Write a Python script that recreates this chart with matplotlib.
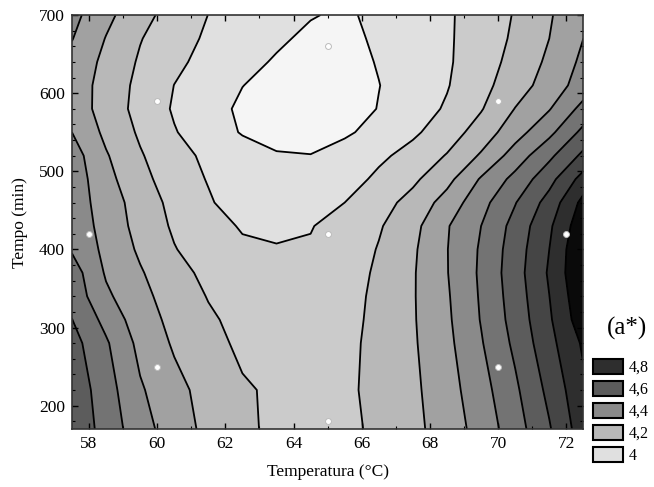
import numpy as np
import matplotlib
matplotlib.use("Agg")
import matplotlib.pyplot as plt
from matplotlib.patches import Patch

temp = [57.5, 58.5, 59.5, 60.5, 61.5, 62.5, 63.5, 64.5, 65.5, 66.5, 67.5, 68.5, 69.5, 70.5, 71.5, 72.5]
tempo = [170, 220, 280, 310, 340, 370, 400, 430, 460, 490, 520, 550, 580, 610, 640, 670, 700]

# a* values, one row per tempo value (bottom to top)
a_star = [
    [4.683, 4.559, 4.442, 4.347, 4.275, 4.219, 4.180, 4.175, 4.180, 4.217, 4.274, 4.346, 4.439, 4.555, 4.691, 4.855],
    [4.670, 4.544, 4.412, 4.329, 4.265, 4.211, 4.185, 4.180, 4.185, 4.222, 4.280, 4.359, 4.461, 4.582, 4.726, 4.880],
    [4.638, 4.513, 4.372, 4.288, 4.233, 4.180, 4.170, 4.165, 4.175, 4.228, 4.288, 4.375, 4.492, 4.621, 4.769, 4.915],
    [4.602, 4.470, 4.345, 4.274, 4.215, 4.170, 4.155, 4.150, 4.165, 4.228, 4.291, 4.383, 4.505, 4.638, 4.786, 4.960],
    [4.565, 4.419, 4.326, 4.259, 4.195, 4.165, 4.145, 4.140, 4.155, 4.227, 4.292, 4.389, 4.511, 4.648, 4.799, 4.980],
    [4.550, 4.389, 4.309, 4.235, 4.175, 4.145, 4.125, 4.125, 4.145, 4.219, 4.291, 4.396, 4.516, 4.657, 4.812, 5.000],
    [4.490, 4.374, 4.285, 4.205, 4.150, 4.115, 4.105, 4.110, 4.140, 4.206, 4.285, 4.397, 4.512, 4.650, 4.800, 5.000],
    [4.470, 4.361, 4.267, 4.186, 4.134, 4.092, 4.085, 4.095, 4.141, 4.190, 4.270, 4.392, 4.500, 4.635, 4.783, 4.970],
    [4.455, 4.354, 4.255, 4.172, 4.111, 4.050, 4.045, 4.065, 4.100, 4.162, 4.233, 4.340, 4.466, 4.595, 4.739, 4.930],
    [4.459, 4.332, 4.228, 4.154, 4.094, 4.055, 4.025, 4.025, 4.055, 4.121, 4.181, 4.270, 4.410, 4.530, 4.666, 4.840],
    [4.448, 4.309, 4.209, 4.134, 4.080, 4.043, 4.006, 4.002, 4.041, 4.080, 4.135, 4.206, 4.312, 4.444, 4.578, 4.723],
    [4.400, 4.277, 4.186, 4.106, 4.049, 3.993, 3.975, 3.970, 3.985, 4.034, 4.083, 4.152, 4.243, 4.360, 4.474, 4.627],
    [4.359, 4.259, 4.167, 4.090, 4.037, 3.983, 3.955, 3.945, 3.951, 4.004, 4.055, 4.111, 4.193, 4.303, 4.394, 4.532],
    [4.357, 4.262, 4.174, 4.099, 4.050, 4.0015, 3.970, 3.955, 3.955, 3.998, 4.046, 4.094, 4.170, 4.253, 4.344, 4.446],
    [4.368, 4.276, 4.188, 4.120, 4.071, 4.030, 3.990, 3.965, 3.965, 4.006, 4.047, 4.088, 4.154, 4.232, 4.319, 4.422],
    [4.404, 4.296, 4.205, 4.139, 4.086, 4.051, 4.016, 3.980, 3.975, 4.015, 4.051, 4.088, 4.145, 4.216, 4.300, 4.400],
    [4.430, 4.326, 4.233, 4.160, 4.099, 4.068, 4.037, 4.006, 3.985, 4.024, 4.056, 4.088, 4.140, 4.207, 4.290, 4.380],
]

# experimental points (planejamento)
pts_temp = [58, 60, 60, 65, 65, 65, 70, 70, 72]
pts_tempo = [420, 250, 590, 180, 420, 660, 250, 590, 420]

levels = [3.8, 4.0, 4.1, 4.2, 4.3, 4.4, 4.5, 4.6, 4.7, 4.8, 4.9, 5.2]
greys = ['#f5f5f5', '#e0e0e0', '#cbcbcb', '#b8b8b8', '#a1a1a1', '#8a8a8a',
         '#737373', '#5c5c5c', '#454545', '#2e2e2e', '#0a0a0a']

leg_labels = ['4,8', '4,6', '4,4', '4,2', '4']
leg_colors = ['#2e2e2e', '#5c5c5c', '#8a8a8a', '#b8b8b8', '#e0e0e0']

plt.rcParams['font.family'] = ['Liberation Serif', 'DejaVu Serif']

fig = plt.figure(figsize=(6.54, 4.87), dpi=100)
ax = fig.add_axes([0.110, 0.119, 0.782, 0.850])

X, Y = np.meshgrid(temp, tempo)
Z = np.array(a_star)
ax.contourf(X, Y, Z, levels=levels, colors=greys)
ax.contour(X, Y, Z, levels=levels[1:-1], colors='k', linewidths=1.3)

ax.scatter(pts_temp, pts_tempo, s=18, facecolor='white', edgecolor='#bbbbbb',
           linewidth=0.7, zorder=5)

ax.set_xlim(57.5, 72.5)
ax.set_ylim(170, 700)
ax.set_xticks(range(58, 73, 2))
ax.set_xticks(range(58, 73, 1), minor=True)
ax.set_yticks(range(200, 701, 100))
ax.set_yticks(range(180, 701, 20), minor=True)
ax.tick_params(which='both', direction='in', top=True, right=True, labelsize=12.5)
ax.tick_params(which='major', length=4, width=1, pad=5)
ax.tick_params(which='minor', length=2.5, width=0.8)
for s in ax.spines.values():
    s.set_linewidth(1.2)
    s.set_color('#333333')

ax.set_xlabel('Temperatura (°C)', fontsize=12.5, labelpad=9)
ax.set_ylabel('Tempo (min)', fontsize=12.5, labelpad=8)

fig.text(0.958, 1 - 328 / 487, '(a*)', fontsize=18, ha='center', va='center')
handles = [Patch(facecolor=c, edgecolor='k', linewidth=1.5) for c in leg_colors]
fig.legend(handles, leg_labels, loc='upper left', bbox_to_anchor=(593 / 654, 1 - 359 / 487),
           frameon=False, fontsize=11.5, handlelength=1.9, handleheight=1.1,
           labelspacing=0.3, handletextpad=0.35, borderpad=0, borderaxespad=0)

fig.savefig('out.png', dpi=100)
